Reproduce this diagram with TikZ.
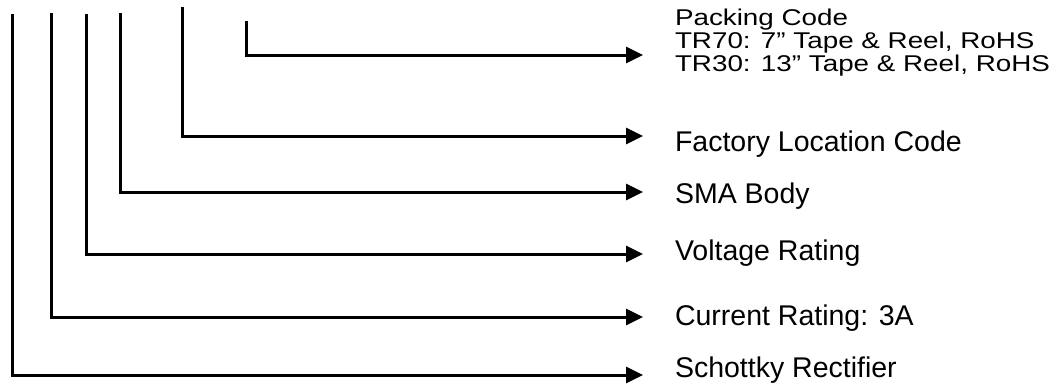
\documentclass[tikz,border=0pt]{standalone}
\usepackage{fontspec}
\setmainfont{Liberation Sans}
\usetikzlibrary{positioning,arrows.meta}
\newcommand\labelfont{\fontsize{28.5}{23}\selectfont\lineskiplimit=-20pt\relax}
\newcommand\packfont{\fontsize{27.8}{28}\selectfont\lineskiplimit=-20pt\relax}

\begin{document}
\begin{tikzpicture}[
    x=1pt, y=-1pt,
 mylabel/.style = {
        anchor=base west, align=left, inner sep=0pt, outer sep=0pt,
        font=\labelfont},
   arrow/.style = {line width=3pt, -{Triangle[length=17pt,width=16pt]}}
                    ]
\useasboundingbox (0,0) rectangle (1062,383);
% the free ends at the top
\coordinate (v1) at (12,14);
\coordinate (v2) at (51,13);
\coordinate (v3) at (86,14);
\coordinate (v4) at (120,13);
\coordinate (v5) at (182,7);
\coordinate (v6) at (246,21);
% the arrow tips
\coordinate (t1) at (643,375);
\coordinate (t2) at (643,317);
\coordinate (t3) at (643,254);
\coordinate (t4) at (643,192);
\coordinate (t5) at (643,136);
\coordinate (t6) at (643,55);
% the labels on the right
\node (n1) [mylabel] at (675,377) {Schottky Rectifier};
\node (n2) [mylabel] at (675,325) {Current Rating: 3A};
\node (n3) [mylabel] at (675,260) {Voltage Rating};
\node (n4) [mylabel] at (675,203) {SMA Body};
\node (n5) [mylabel] at (675,151) {Factory Location Code};
% multi-line, a bit flatter: base is the last line
\node (n6) [mylabel, font=\packfont, yscale=0.82] at (675,71)
                                   {Packing Code\\
                                    TR70: 7” Tape \& Reel, RoHS\\
                                    TR30: 13” Tape \& Reel, RoHS};
% the leads
\draw[arrow] (v1) |- (t1);
\draw[arrow] (v2) |- (t2);
\draw[arrow] (v3) |- (t3);
\draw[arrow] (v4) |- (t4);
\draw[arrow] (v5) |- (t5);
\draw[arrow] (v6) |- (t6);
\end{tikzpicture}
\end{document}
